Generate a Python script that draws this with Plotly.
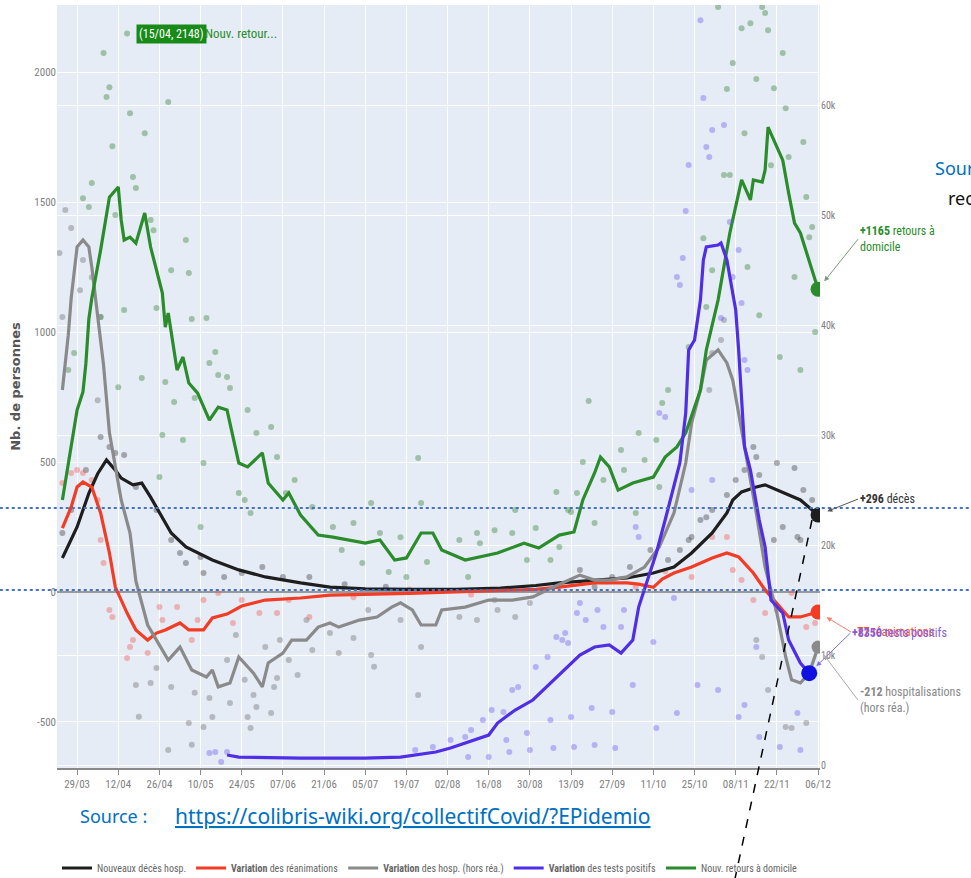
import plotly.graph_objects as go

# ---------------- DATA ----------------
# Smoothed lines (7-day averages)
deces_dates = ["03-24","03-29","04-02","04-05","04-08","04-11","04-13","04-17","04-20","04-23","04-30",
               "05-05","05-14","05-23","06-01","06-13","06-23","07-05","07-20","08-05","08-20","09-01",
               "09-09","09-21","10-02","10-11","10-18","10-24","10-31","11-05","11-07","11-10","11-15",
               "11-18","11-22","11-26","11-30","12-06"]
deces_vals = [131,250,380,455,508,469,438,412,419,365,227,173,123,85,58,35,19,12,10,10,15,25,
              35,46,54,73,96,150,227,304,354,385,404,412,392,373,354,296]

rea_dates = ["03-24","03-27","03-29","03-31","04-03","04-06","04-09","04-11","04-15","04-18","04-22",
             "04-25","04-28","05-03","05-06","05-11","05-14","05-19","05-24","06-01","06-13","06-23",
             "07-20","08-15","09-01","09-09","09-21","10-02","10-06","10-11","10-14","10-18","10-24",
             "10-31","11-05","11-09","11-14","11-18","11-22","11-26","11-30","12-06"]
rea_vals = [246,327,404,423,404,304,150,19,-81,-146,-185,-158,-146,-119,-146,-146,-100,-85,-54,
            -31,-23,-12,-5,3,10,19,35,35,30,18,50,73,96,131,150,135,73,8,-42,-96,-96,-77]

hosp_dates = ["03-24","03-26","03-27","03-29","03-31","04-02","04-03","04-05","04-07","04-09","04-13",
              "04-16","04-18","04-22","04-25","04-29","05-03","05-07","05-12","05-14","05-16","05-20",
              "05-23","05-28","05-31","06-02","06-07","06-10","06-15","06-19","06-23","06-26","07-03",
              "07-09","07-14","07-17","07-21","07-24","07-29","07-31","08-08","08-16","08-24","08-31",
              "09-07","09-16","09-21","09-26","10-02","10-08","10-13","10-18","10-22","10-24","10-27",
              "10-29","11-02","11-05","11-07","11-09","11-11","11-15","11-18","11-22","11-25","11-27",
              "11-30","12-03","12-06"]
hosp_vals = [777,988,1131,1327,1354,1327,1250,1065,873,612,354,227,42,-127,-185,-262,-212,-300,
             -327,-300,-365,-350,-250,-312,-365,-273,-235,-185,-185,-135,-119,-135,-108,-96,-58,
             -42,-69,-127,-127,-69,-58,-31,-31,-19,19,65,46,46,58,96,173,304,496,650,777,892,931,
             881,815,688,558,304,96,-81,-250,-338,-350,-312,-212]

tests_dates = ["05-19","05-23","06-13","07-05","07-17","07-29","08-03","08-08","08-16","08-19","08-25",
               "08-31","09-06","09-12","09-16","09-21","09-26","09-30","10-02","10-04","10-06","10-09",
               "10-12","10-15","10-17","10-20","10-22","10-23","10-25","10-27","10-28","10-29","11-02",
               "11-03","11-05","11-07","11-08","11-09","11-10","11-11","11-13","11-16","11-18","11-19",
               "11-20","11-24","11-26","11-30","12-03"]
tests_vals = [909,727,636,636,727,1182,1545,2000,2727,3818,5000,5909,7454,8909,10000,10727,10909,
              10182,10727,11363,14363,16818,19272,22272,24363,27454,32000,37727,38636,42272,45909,
              47090,47272,47454,45909,42909,41363,37727,33181,28909,26818,22272,19818,17454,15000,
              13818,11363,9272,8350]

retours_dates = ["03-24","03-27","03-29","03-31","04-01","04-02","04-03","04-06","04-09","04-12","04-13",
                 "04-14","04-16","04-18","04-21","04-23","04-27","04-28","04-29","05-02","05-04","05-06",
                 "05-09","05-13","05-16","05-19","05-23","05-26","05-31","06-02","06-07","06-09","06-13",
                 "06-19","06-24","07-05","07-10","07-15","07-19","07-24","07-28","07-31","08-08","08-19",
                 "08-28","09-02","09-09","09-14","09-17","09-21","09-23","09-26","09-29","10-04","10-11",
                 "10-15","10-19","10-22","10-27","10-29","11-02","11-06","11-08","11-10","11-13","11-14",
                 "11-17","11-18","11-19","11-22","11-24","11-26","11-28","11-30","12-06"]
retours_vals = [354,558,700,770,880,1050,1130,1315,1519,1558,1431,1354,1365,1342,1458,1327,1150,1019,
                1073,854,904,804,765,661,711,700,496,481,535,419,354,381,296,219,211,188,200,123,131,
                227,227,162,123,150,188,169,219,231,354,458,519,481,392,419,442,519,558,612,777,931,
                1123,1381,1481,1585,1508,1585,1577,1623,1788,1712,1661,1535,1419,1381,1165]

# Daily raw values (dots)
deces_dot_dates = ["03-24","03-27","04-01","04-06","04-09","04-11","04-14","04-18","04-25","04-30","05-03",
                   "05-05","05-10","05-11","05-18","05-24","05-31","06-07","06-16","06-28","07-12","09-16",
                   "09-21","09-27","10-03","10-10","10-16","10-20","10-23","10-24","10-27","10-29","10-31",
                   "11-05","11-08","11-11","11-14","11-15","11-16","11-21","11-22","11-24","11-28","11-29",
                   "11-30","12-01","12-04"]
deces_dot_vals = [227,315,469,596,558,535,527,404,315,200,150,112,135,73,58,73,96,58,58,30,20,85,
                  19,58,96,162,123,162,200,212,277,288,315,373,431,469,558,519,450,200,496,250,477,212,
                  200,392,354]

rea_dot_dates = ["03-24","03-27","03-29","03-31","04-03","04-05","04-06","04-07","04-09","04-10","04-15",
                 "04-16","04-17","04-22","04-26","04-27","05-02","05-07","05-09","05-11","05-16","05-21",
                 "05-24","05-30","06-05","06-09","06-16","07-01","07-20","08-10","09-10","09-25","10-05",
                 "10-15","10-24","10-31","11-05","11-07","11-10","11-14","11-18","11-22","11-27","12-02",
                 "12-05"]
rea_dot_vals = [419,458,469,458,431,354,200,112,-69,-96,-254,-212,-185,-235,-58,-108,-58,-185,-108,
                -31,-4,-119,-31,-81,-81,-31,-96,-20,10,-10,30,40,20,80,58,212,212,85,46,-31,-81,-69,
                -4,-135,-119]

hosp_dot_dates = ["03-23","03-24","03-25","03-27","03-30","03-31","04-03","04-05","04-06","04-18","04-19",
                  "04-23","04-25","04-29","04-30","05-06","05-07","05-08","05-11","05-13","05-14","05-19",
                  "05-20","05-22","05-25","05-26","05-27","05-28","05-29","06-01","06-03","06-04","06-05",
                  "06-06","06-09","06-12","06-15","06-17","06-23","06-26","07-01","07-06","07-07","07-08",
                  "07-17","07-23","07-24","08-06","08-12","08-18","08-19","08-25","08-30","10-30","10-31",
                  "11-03","11-04","11-15","11-17","11-19","11-25","11-27","12-02"]
hosp_dot_vals = [1304,1058,1469,1400,1161,1277,1211,738,1058,-358,-480,-350,-292,-608,-365,-504,-588,
                 -388,-519,-408,-481,-262,-427,-165,-338,-481,-523,-396,-442,-212,-465,-365,-331,-185,
                 -262,-319,-108,-223,-158,-235,-177,-69,-242,-288,-108,-396,-212,-96,-108,-31,-69,-96,
                 -42,777,919,969,1046,-185,-250,-377,-519,-523,-504]

tests_dot_dates = ["05-13","05-15","05-17","05-19","07-22","07-28","08-03","08-08","08-09","08-10","08-14",
                   "08-16","08-17","08-21","08-22","08-23","08-24","08-26","08-29","08-30","09-01","09-05",
                   "09-06","09-07","09-08","09-10","09-11","09-12","09-13","09-14","09-15","09-16","09-18",
                   "09-20","09-21","09-22","09-24","09-27","09-28","09-30","10-01","10-04","10-05","10-06",
                   "10-11","10-12","10-13","10-15","10-18","10-19","10-19","10-20","10-21","10-22","10-23",
                   "10-24","10-26","10-27","10-28","10-29","10-30","10-31","10-31","11-02","11-03","11-04",
                   "11-06","11-07","11-09","11-09","11-10","11-11","11-11","11-12","11-15","11-16","11-23",
                   "11-29","11-30"]
tests_dot_vals = [1090,1182,273,1182,1363,1636,2272,2545,727,3181,4090,727,5000,4818,2272,1182,6818,
                  7090,2909,1363,8909,9818,4090,1545,11636,11363,12000,11090,4363,1636,13818,14727,
                  13181,5181,1818,14090,12545,4818,1545,12545,14090,7272,21636,20727,11181,3363,32000,
                  31636,15181,4727,44363,43636,46090,50363,54545,25000,7272,67700,60636,56181,55272,
                  57727,25909,6818,40636,58181,49363,44363,46818,4363,42000,36818,5454,35909,10727,
                  2545,1636,4727,1363]

retours_dot_dates = ["03-26","03-28","03-31","04-02","04-03","04-06","04-07","04-08","04-09","04-10","04-11",
                     "04-12","04-14","04-15","04-16","04-17","04-18","04-20","04-21","04-23","04-24","04-25",
                     "04-26","04-27","04-28","04-29","04-30","05-01","05-04","05-05","05-06","05-07","05-08",
                     "05-10","05-11","05-12","05-13","05-15","05-16","05-19","05-20","05-23","05-25","05-26",
                     "05-27","05-29","06-03","06-05","06-08","06-11","06-17","06-24","06-27","07-01","07-04",
                     "07-07","07-10","07-13","07-17","07-19","07-23","07-24","07-26","08-06","08-09","08-12",
                     "08-13","08-18","08-24","08-25","08-29","09-01","09-06","09-08","09-09","09-12","09-13",
                     "09-15","09-17","09-19","09-21","09-24","09-30","10-01","10-05","10-06","10-08","10-12",
                     "10-13","10-14","10-16","10-23","10-28","10-29","10-31","11-02","11-04","11-05","11-06",
                     "11-07","11-10","11-11","11-12","11-13","11-15","11-16","11-17","11-18","11-19","11-20",
                     "11-21","11-23","11-24","11-25","11-26","11-28","11-30","12-01","12-02","12-03","12-04",
                     "12-05"]
retours_dot_vals = [854,919,1515,1481,1573,1058,2073,1904,1942,1715,1450,788,1085,2148,1842,1596,1554,
                    823,1765,1431,1392,1092,442,604,808,1885,1238,731,585,1354,1227,1050,746,250,496,
                    1054,881,923,835,827,785,381,354,700,304,612,635,519,381,431,327,250,162,265,112,
                    342,227,77,211,58,515,342,115,200,58,227,188,238,227,315,123,246,123,385,173,315,
                    308,381,500,735,265,431,546,469,304,612,508,585,404,727,777,942,1361,1096,1238,2250,
                    1604,1935,1604,2035,2169,1765,1250,2188,1973,1065,2250,2227,2161,1642,1938,904,2073,
                    1861,1673,1212,854,1731,1519,1365,1404,1000]

x_ticks_start = "2020-03-29"
left_ticks = [-500, 0, 500, 1000, 1500, 2000]
left_ticktext = ["-500", "0", "500", "1000", "1500", "2000"]
right_ticks = [0, 10000, 20000, 30000, 40000, 50000, 60000]
right_ticktext = ["0", "10k", "20k", "30k", "40k", "50k", "60k"]


def d(lst):
    return ["2020-" + s for s in lst]


FONT = "Roboto Condensed, Liberation Sans Narrow, Arial Narrow, Roboto, sans-serif"

C_BLACK = "#1e1e1e"
C_RED = "#f23c24"
C_GREY = "#8a8a8a"
C_BLUE = "#4f2ee6"
C_GREEN = "#2a8c2a"

fig = go.Figure()

# dots
dot_specs = [
    (retours_dot_dates, retours_dot_vals, "rgba(70,140,70,0.45)", "y"),
    (hosp_dot_dates, hosp_dot_vals, "rgba(110,110,110,0.40)", "y"),
    (deces_dot_dates, deces_dot_vals, "rgba(60,60,60,0.40)", "y"),
    (rea_dot_dates, rea_dot_vals, "rgba(240,90,80,0.40)", "y"),
    (tests_dot_dates, tests_dot_vals, "rgba(110,90,240,0.40)", "y2"),
]
for dd, vv, col, ax in dot_specs:
    fig.add_trace(go.Scatter(x=d(dd), y=vv, mode="markers", yaxis=ax, showlegend=False,
                             hoverinfo="skip", marker=dict(size=6, color=col)))

line_specs = [
    (deces_dates, deces_vals, C_BLACK, "Nouveaux décès hosp.", "y", 15),
    (rea_dates, rea_vals, C_RED, "<b>Variation</b> des réanimations", "y", 15),
    (hosp_dates, hosp_vals, C_GREY, "<b>Variation</b> des hosp. (hors réa.)", "y", 13),
    (tests_dates, tests_vals, C_BLUE, "<b>Variation</b> des tests positifs", "y2", 16),
    (retours_dates, retours_vals, C_GREEN, "Nouv. retours à domicile", "y", 15),
]
for dd, vv, col, name, ax, msz in line_specs:
    fig.add_trace(go.Scatter(x=d(dd), y=vv, mode="lines", name=name, yaxis=ax,
                             line=dict(color=col, width=3.2), hoverinfo="skip"))
for dd, vv, col, name, ax, msz in line_specs:
    endcol = "#1010e0" if ax == "y2" else col
    fig.add_trace(go.Scatter(x=d(dd[-1:]), y=vv[-1:], mode="markers", yaxis=ax, showlegend=False,
                             hoverinfo="skip", marker=dict(size=msz, color=endcol)))

ann = []
# tooltip-like label
ann.append(dict(x="2020-" + retours_dot_dates[13], y=retours_dot_vals[13], xref="x", yref="y",
                text="(15/04, 2148)", showarrow=False, xanchor="left", xshift=9,
                bgcolor="#188a18", borderpad=2, font=dict(family=FONT, size=12, color="white")))
ann.append(dict(x="2020-" + retours_dot_dates[13], y=retours_dot_vals[13], xref="x", yref="y",
                text="Nouv. retour...", showarrow=False, xanchor="left", xshift=76,
                font=dict(family=FONT, size=13, color="#2a8c2a")))
# end-of-line labels
ann.append(dict(x="2020-" + retours_dates[-1], y=retours_vals[-1], xref="x", yref="y",
                text="<b>+1165</b> retours à<br>domicile", align="left", xanchor="left",
                showarrow=True, ax=40, ay=-50, arrowhead=2, arrowsize=1, arrowwidth=1,
                arrowcolor="#7a9a7a", standoff=10, font=dict(family=FONT, size=12, color="#2a8c2a")))
ann.append(dict(x="2020-" + deces_dates[-1], y=deces_vals[-1], xref="x", yref="y",
                text="<b>+296</b> décès", align="left", xanchor="left",
                showarrow=True, ax=40, ay=-16, arrowhead=2, arrowsize=1, arrowwidth=1,
                arrowcolor="#555", standoff=10, font=dict(family=FONT, size=12, color="#333")))
ann.append(dict(x="2020-" + rea_dates[-1], y=rea_vals[-1], xref="x", yref="y",
                text="<b>-77</b> réanimations", align="left", xanchor="left",
                showarrow=True, ax=33, ay=20, arrowhead=2, arrowsize=1, arrowwidth=1,
                arrowcolor="#f08070", standoff=10, font=dict(family=FONT, size=12, color="#f0503c")))
ann.append(dict(x="2020-" + tests_dates[-1], y=tests_vals[-1], xref="x", yref="y2",
                text="<b>+8350</b> tests positifs", align="left", xanchor="left",
                showarrow=True, ax=41, ay=-40, arrowhead=2, arrowsize=1, arrowwidth=1,
                arrowcolor="#8070e0", standoff=10, font=dict(family=FONT, size=12, color="#8a5ad8")))
ann.append(dict(x="2020-" + hosp_dates[-1], y=hosp_vals[-1], xref="x", yref="y",
                text="<b>-212</b> hospitalisations<br>(hors réa.)", align="left", xanchor="left",
                showarrow=True, ax=40, ay=53, arrowhead=2, arrowsize=1, arrowwidth=1,
                arrowcolor="#aaa", standoff=10, font=dict(family=FONT, size=12, color="#888")))
# document overlay texts
ann.append(dict(x=0.027, y=-0.063, xref="paper", yref="paper", xanchor="left", yanchor="middle",
                showarrow=False, text="Source :",
                font=dict(family="Noto Sans, sans-serif", size=18, color="#0070c0")))
ann.append(dict(x=0.152, y=-0.063, xref="paper", yref="paper", xanchor="left", yanchor="middle",
                showarrow=False,
                text="<span style='text-decoration:underline'>https://colibris-wiki.org/collectifCovid/?EPidemio</span>",
                font=dict(family="Noto Sans, sans-serif", size=21, color="#0070c0")))
ann.append(dict(x=1.148, y=0.786, xref="paper", yref="paper", xanchor="left", yanchor="middle",
                showarrow=False, text="Source", font=dict(family="Noto Sans, sans-serif", size=18, color="#0070c0")))
ann.append(dict(x=1.165, y=0.747, xref="paper", yref="paper", xanchor="left", yanchor="middle",
                showarrow=False, text="recueil", font=dict(family="Noto Sans, sans-serif", size=18, color="#111")))

shapes = [
    dict(type="line", xref="paper", yref="paper", x0=-0.075, x1=1.2, y0=0.3408, y1=0.3408,
         line=dict(color="#4472c4", width=2, dash="dot"), layer="above"),
    dict(type="line", xref="paper", yref="paper", x0=-0.075, x1=1.2, y0=0.2333, y1=0.2333,
         line=dict(color="#4472c4", width=2, dash="dot"), layer="above"),
    dict(type="line", xref="paper", yref="paper", x0=0.9895, y0=0.325, x1=0.8886, y1=-0.145,
         line=dict(color="black", width=1.5, dash="dash"), layer="above"),
]

tickfont = dict(family=FONT, size=11, color="#808080")
fig.update_layout(
    width=971, height=878,
    margin=dict(l=57, r=151, t=5, b=110, autoexpand=False),
    paper_bgcolor="white", plot_bgcolor="#e5ecf6",
    font=dict(family=FONT),
    legend=dict(orientation="h", x=0.0, xanchor="left", yref="container", y=0.0114, yanchor="middle",
                font=dict(family=FONT, size=10, color="#666"), bgcolor="rgba(0,0,0,0)",
                itemwidth=30, tracegroupgap=0),
    xaxis=dict(type="date", range=["2020-03-22 04:00", "2020-12-06 16:00"], tick0=x_ticks_start,
               dtick=14 * 86400000, tickformat="%d/%m", showgrid=True, gridcolor="white",
               showline=True, linecolor="#8a8a8a", linewidth=2, ticks="outside", ticklen=5,
               tickcolor="#8a8a8a", tickfont=tickfont, zeroline=False),
    yaxis=dict(range=[-677, 2258], tickvals=left_ticks, ticktext=left_ticktext, gridcolor="white",
               zeroline=True, zerolinecolor="#999", zerolinewidth=2, tickfont=tickfont,
               title=dict(text="<b>Nb. de personnes</b>", standoff=10,
                          font=dict(family="DejaVu Sans, sans-serif", size=13, color="#555"))),
    yaxis2=dict(overlaying="y", side="right", range=[-270, 69090], tickvals=right_ticks,
                ticktext=right_ticktext, showgrid=True, gridcolor="white", zeroline=False,
                tickfont=dict(family=FONT, size=10, color="#808080")),
    annotations=ann, shapes=shapes,
    hovermode=False,
)

fig.write_html("out.html", config={"displayModeBar": False},
               post_script="document.body.style.margin='0';")
